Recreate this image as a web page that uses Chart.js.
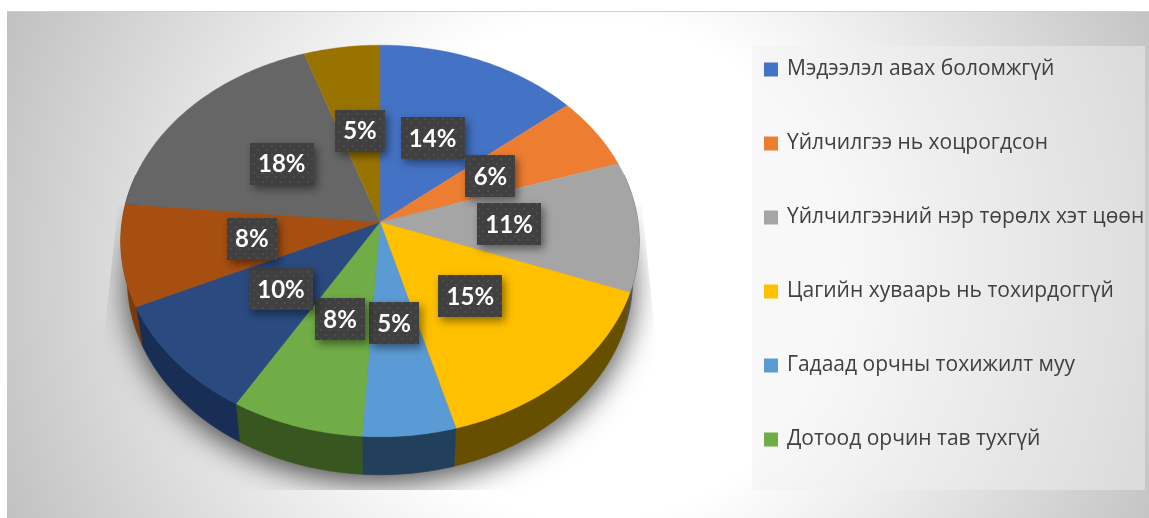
<!DOCTYPE html>
<html>
<head>
<meta charset="utf-8">
<style>html,body{margin:0;padding:0;background:#fff}canvas{display:block}</style>
<script src="https://cdn.jsdelivr.net/npm/chart.js@4"></script>
</head>
<body>
<div style="width:1149px;height:518px"><canvas id="c" width="1149" height="518"></canvas></div>
<script>
const categories = ["Мэдээлэл авах боломжгүй","Үйлчилгээ нь хоцрогдсон","Үйлчилгээний нэр төрөлх хэт цөөн","Цагийн хуваарь нь тохирдоггүй","Гадаад орчны тохижилт муу","Дотоод орчин тав тухгүй","","","",""];
const values = [14,6,10.7,15,5.3,7.55,9.55,8.4,18.3,5.2];
const colors = ["#4472C4","#ED7D31","#A5A5A5","#FFC000","#5B9BD5","#70AD47","#2A4A80","#A64F11","#666666","#997300"];
const sideColors = ["#223962","#773F18","#535353","#665000","#223F5C","#38561F","#182E54","#7A3A0B","#333333","#4D3A00"];

const CX=380, CY=222, RX=258, RY=194, P=0.097, DEPTH=38, SHRINK=0.975;
function proj(t,r){
  const X=Math.sin(t)*r, Y=-Math.cos(t)*r, w=1-P*Y;
  return [CX+RX*X/w, CY+RY*Y/w];
}
function low(p){ return [CX+(p[0]-CX)*SHRINK, p[1]+DEPTH]; }
function arcPts(a0,a1){
  const n=Math.max(2,Math.ceil((a1-a0)/0.015)), pts=[];
  for(let i=0;i<=n;i++) pts.push(proj(a0+(a1-a0)*i/n,1));
  return pts;
}
function tracePts(ctx,pts,first){
  pts.forEach((p,i)=>{ if(i===0&&first) ctx.moveTo(p[0],p[1]); else ctx.lineTo(p[0],p[1]); });
}

const pie3d = {
  id:'pie3d',
  afterLayout(chart){
    const l=chart.legend;
    l.left=712.5; l.right=1149; l.top=6; l.bottom=518;
  },
  beforeDraw(chart){
    const ctx=chart.ctx;
    ctx.save();
    ctx.fillStyle='#fff'; ctx.fillRect(0,0,1149,518);
    ctx.beginPath(); ctx.rect(7,11,1142,507); ctx.clip();
    const g=ctx.createRadialGradient(590,270,250,590,270,640);
    g.addColorStop(0,'#ffffff'); g.addColorStop(1,'#c0c0c0');
    ctx.fillStyle=g; ctx.fillRect(0,0,1149,518);
    ctx.restore();
    ctx.save();
    ctx.fillStyle='#cfcfcf'; ctx.fillRect(7,11,1142,1);
    ctx.fillStyle='rgba(240,240,240,0.47)'; ctx.fillRect(752,46,393,444);
    ctx.restore();
  },
  beforeDatasetDraw(chart,args){
    const ctx=chart.ctx, arcs=chart.getDatasetMeta(args.index).data;
    const ang=arcs.map(a=>[a.startAngle+Math.PI/2,a.endAngle+Math.PI/2]);
    // soft shadow
    ctx.save();
    ctx.beginPath();
    ctx.moveTo(118,205); ctx.lineTo(642,205); ctx.lineTo(656,345); ctx.lineTo(656,490); ctx.lineTo(103,490); ctx.lineTo(103,345); ctx.closePath();
    ctx.clip();
    ctx.beginPath();
    tracePts(ctx,arcPts(0,Math.PI*2).map(low),true); ctx.closePath();
    ctx.shadowColor='rgba(0,0,0,0.7)'; ctx.shadowBlur=30; ctx.shadowOffsetY=8;
    ctx.fillStyle='#777'; ctx.fill();
    ctx.restore();
    // side wall
    ang.forEach((a,i)=>{
      const s=Math.max(a[0],Math.PI/2-0.25), e=Math.min(a[1],Math.PI*1.5+0.25);
      if(e<=s) return;
      const pts=arcPts(s,e);
      ctx.beginPath();
      tracePts(ctx,pts,true);
      tracePts(ctx,pts.slice().reverse().map(low),false);
      ctx.closePath();
      ctx.fillStyle=sideColors[i]; ctx.strokeStyle=sideColors[i]; ctx.lineWidth=0.5;
      ctx.fill(); ctx.stroke();
    });
    // top face
    ang.forEach((a,i)=>{
      ctx.beginPath();
      ctx.moveTo(CX,CY);
      tracePts(ctx,arcPts(a[0],a[1]),false);
      ctx.closePath();
      ctx.fillStyle=arcs[i].options.backgroundColor; ctx.strokeStyle=ctx.fillStyle; ctx.lineWidth=0.4;
      ctx.fill(); ctx.stroke();
    });
    return false;
  },
  afterDatasetsDraw(chart){
    const ctx=chart.ctx, arcs=chart.getDatasetMeta(0).data;
    const total=values.reduce((s,v)=>s+v,0);
    const pc=document.createElement('canvas'); pc.width=9; pc.height=9;
    const q=pc.getContext('2d');
    q.fillStyle='#404040'; q.fillRect(0,0,9,9);
    q.fillStyle='#4d4d4d'; q.fillRect(1,1,2,2); q.fillRect(5,5,2,2);
    const pat=ctx.createPattern(pc,'repeat');
    ctx.save();
    ctx.font='bold 24px Lato';
    ctx.textAlign='center'; ctx.textBaseline='middle';
    arcs.forEach((a,i)=>{
      const t=(a.startAngle+a.endAngle)/2+Math.PI/2;
      const p=proj(t,0.5);
      const txt=Math.round(values[i]/total*100)+'%';
      const w=Math.round(ctx.measureText(txt).width)+16, h=42;
      const x=Math.round(p[0]-w/2), y=Math.round(p[1]-h/2);
      ctx.save();
      ctx.shadowColor='rgba(0,0,0,0.45)'; ctx.shadowBlur=8; ctx.shadowOffsetX=3; ctx.shadowOffsetY=4;
      ctx.fillStyle=pat; ctx.fillRect(x,y,w,h);
      ctx.restore();
      ctx.fillStyle='#fff';
      ctx.fillText(txt,p[0],p[1]+1);
    });
    ctx.restore();
  }
};

new Chart(document.getElementById('c'),{
  type:'pie',
  data:{labels:categories,datasets:[{data:values,backgroundColor:colors,borderColor:colors,borderWidth:3}]},
  plugins:[pie3d],
  options:{
    responsive:false,animation:false,
    plugins:{
      tooltip:{enabled:false},
      legend:{
        position:'right',align:'start',
        labels:{
          filter:item=>item.text!=='',
          boxWidth:11,boxHeight:11,padding:53,color:'#404040',
          font:{family:'"Open Sans"',size:21}
        }
      }
    }
  }
});
</script>
</body>
</html>
